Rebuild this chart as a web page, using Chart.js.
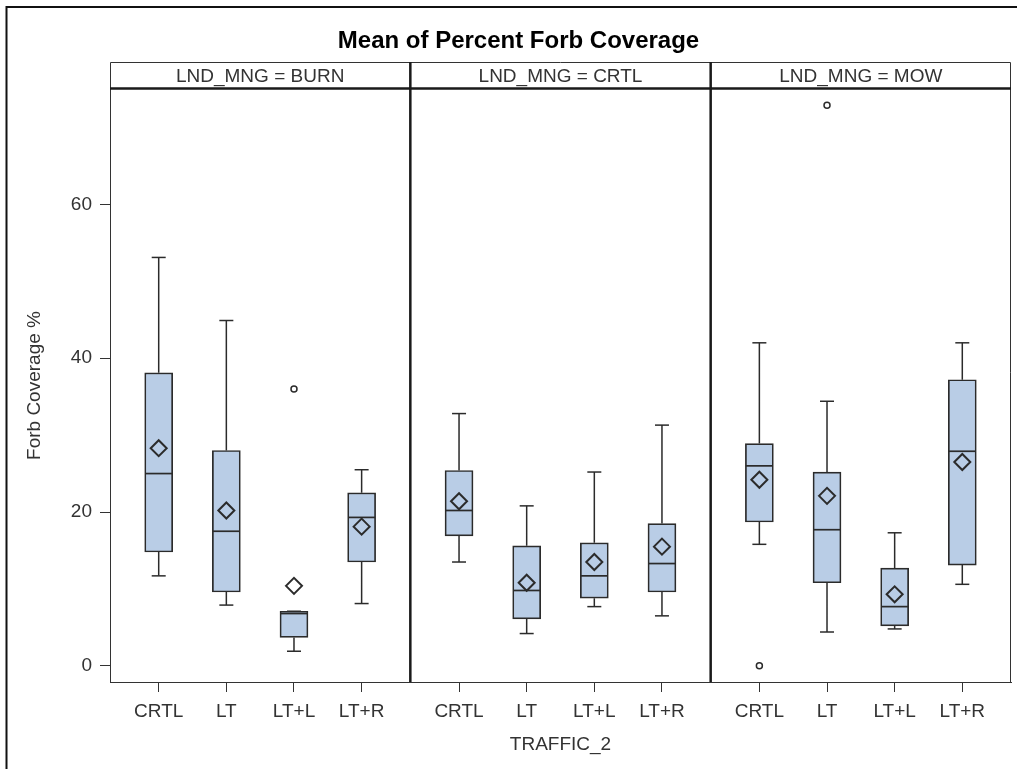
<!DOCTYPE html>
<html>
<head>
<meta charset="utf-8">
<title>Mean of Percent Forb Coverage</title>
<script src="https://cdn.jsdelivr.net/npm/chart.js@4.4.1/dist/chart.umd.min.js"></script>
<style>
  html, body { margin: 0; padding: 0; background: #fff; overflow: hidden; }
  canvas { display: block; }
</style>
</head>
<body>
<canvas id="chart" width="1017" height="769"></canvas>
<script>
// Land management panels and traffic treatments
const panels = ['BURN', 'CRTL', 'MOW'];
const traffic = ['CRTL', 'LT', 'LT+L', 'LT+R'];
const yTicks = [0, 20, 40, 60];

// Box plot statistics, one row per panel, one column per traffic treatment
const whiskerLow  = [[11.7, 7.9, 1.9, 8.1], [13.5, 4.2, 7.7, 6.5], [15.8, 4.4, 4.8, 10.6]];
const quartile1   = [[14.8, 9.6, 3.7, 13.5], [16.9, 6.1, 8.8, 9.6], [18.7, 10.8, 5.2, 13.1]];
const medians     = [[25.0, 17.5, 6.8, 19.3], [20.2, 9.8, 11.7, 13.3], [26.0, 17.7, 7.7, 27.9]];
const quartile3   = [[38.1, 28.0, 7.1, 22.5], [25.4, 15.6, 16.0, 18.5], [28.9, 25.2, 12.7, 37.2]];
const whiskerHigh = [[53.1, 44.9, 7.1, 25.5], [32.8, 20.8, 25.2, 31.3], [42.0, 34.4, 17.3, 42.0]];
const means       = [[28.3, 20.2, 10.4, 18.1], [21.4, 10.8, 13.5, 15.5], [24.2, 22.1, 9.3, 26.5]];
const outliers    = [[[], [], [36.0], []], [[], [], [], []], [[0.0], [72.9], [], []]];

// Horizontal layout of each panel in x-axis units (one unit per treatment slot)
const PANEL_EDGE = 0.72;
const PANEL_SPAN = 3 + 2 * PANEL_EDGE;
const STRIP_HEIGHT = 27;
const FONT = '"Liberation Sans", Arial, sans-serif';
const INK = '#2b2b2b';

const xPos = (p, i) => p * PANEL_SPAN + PANEL_EDGE + i;
const slotPositions = [];
panels.forEach((_, p) => traffic.forEach((_, i) => slotPositions.push(xPos(p, i))));

// Build the per-mark data from the statistics arrays
const boxData = [], medianData = [], meanData = [], capData = [], stemData = [], outlierData = [];
panels.forEach((_, p) => {
  traffic.forEach((_, i) => {
    const x = xPos(p, i);
    boxData.push({ x, y: [quartile1[p][i], quartile3[p][i]] });
    medianData.push({ x, y: medians[p][i] });
    meanData.push({ x, y: means[p][i] });
    capData.push({ x, y: whiskerLow[p][i] }, { x, y: whiskerHigh[p][i] });
    stemData.push({ x, y: quartile3[p][i] }, { x, y: whiskerHigh[p][i] }, { x, y: null });
    stemData.push({ x, y: quartile1[p][i] }, { x, y: whiskerLow[p][i] }, { x, y: null });
    outliers[p][i].forEach(v => outlierData.push({ x, y: v }));
  });
});

// Outer frame, panel strips, panel dividers
const panelFrame = {
  id: 'panelFrame',
  beforeDraw(chart) {
    const { ctx, width, height } = chart;
    ctx.save();
    ctx.fillStyle = '#fff';
    ctx.fillRect(0, 0, width, height);
    ctx.strokeStyle = '#111';
    ctx.lineWidth = 2;
    ctx.beginPath();
    ctx.moveTo(width, 7);
    ctx.lineTo(6.5, 7);
    ctx.lineTo(6.5, height);
    ctx.stroke();
    ctx.restore();
  },
  afterDraw(chart) {
    const { ctx, chartArea: { left, right, top, bottom }, scales: { x } } = chart;
    const stripTop = top - STRIP_HEIGHT;
    ctx.save();
    // strip outline and right border of the plot
    ctx.strokeStyle = '#333';
    ctx.lineWidth = 1;
    ctx.beginPath();
    ctx.moveTo(left + 0.5, top);
    ctx.lineTo(left + 0.5, stripTop + 0.5);
    ctx.lineTo(right - 0.5, stripTop + 0.5);
    ctx.lineTo(right - 0.5, bottom);
    ctx.stroke();
    // heavy strip base and panel dividers
    ctx.strokeStyle = '#1a1a1a';
    ctx.lineWidth = 2.5;
    ctx.beginPath();
    ctx.moveTo(left, top - 0.5);
    ctx.lineTo(right, top - 0.5);
    for (let p = 1; p < panels.length; p++) {
      const px = x.getPixelForValue(p * PANEL_SPAN);
      ctx.moveTo(px, stripTop);
      ctx.lineTo(px, bottom);
    }
    ctx.stroke();
    // strip labels
    ctx.fillStyle = '#333';
    ctx.font = '19px ' + FONT;
    ctx.textAlign = 'center';
    ctx.textBaseline = 'middle';
    panels.forEach((name, p) => {
      const cx = (x.getPixelForValue(p * PANEL_SPAN) + x.getPixelForValue((p + 1) * PANEL_SPAN)) / 2;
      ctx.fillText('LND_MNG = ' + name, cx, stripTop + STRIP_HEIGHT / 2 + 1);
    });
    ctx.restore();
  }
};

new Chart(document.getElementById('chart'), {
  type: 'bar',
  data: {
    datasets: [
      {
        type: 'line', data: stemData, order: 6,
        borderColor: INK, borderWidth: 1.5, pointRadius: 0, spanGaps: false, fill: false
      },
      {
        type: 'bar', data: boxData, order: 5,
        backgroundColor: '#b9cde6', borderColor: INK, borderWidth: 1.7,
        borderSkipped: false, barThickness: 28
      },
      {
        type: 'scatter', data: capData, order: 4,
        pointStyle: 'line', pointRadius: 7, pointBorderWidth: 1.5, pointBorderColor: INK
      },
      {
        type: 'scatter', data: medianData, order: 3,
        pointStyle: 'line', pointRadius: 13.5, pointBorderWidth: 1.7, pointBorderColor: INK
      },
      {
        type: 'scatter', data: meanData, order: 2,
        pointStyle: 'rectRot', pointRadius: 8, pointBorderWidth: 2,
        pointBorderColor: INK, pointBackgroundColor: 'rgba(0,0,0,0)'
      },
      {
        type: 'scatter', data: outlierData, order: 1,
        pointStyle: 'circle', pointRadius: 3, pointBorderWidth: 1.5,
        pointBorderColor: INK, pointBackgroundColor: 'rgba(0,0,0,0)'
      }
    ]
  },
  options: {
    responsive: false,
    devicePixelRatio: 1,
    animation: false,
    events: [],
    layout: { autoPadding: false, padding: { left: 26, right: 6, top: 0, bottom: 0 } },
    plugins: {
      legend: { display: false },
      tooltip: { enabled: false },
      title: {
        display: true,
        text: 'Mean of Percent Forb Coverage',
        color: '#000',
        font: { family: FONT, size: 24, weight: 'bold' },
        padding: { top: 26.6, bottom: 33.6 }
      }
    },
    scales: {
      x: {
        type: 'linear',
        min: 0,
        max: panels.length * PANEL_SPAN,
        offset: false,
        afterBuildTicks: scale => { scale.ticks = slotPositions.map(value => ({ value })); },
        afterFit: scale => { scale.height = 87; scale.paddingLeft = 0; scale.paddingRight = 0; },
        grid: { display: true, offset: false, drawOnChartArea: false, tickLength: 10, color: '#333', lineWidth: 1 },
        border: { display: true, color: '#333', width: 1 },
        ticks: {
          autoSkip: false, maxRotation: 0, padding: 8, color: '#333',
          font: { family: FONT, size: 19 },
          callback: (value, index) => traffic[index % traffic.length]
        },
        title: {
          display: true, text: 'TRAFFIC_2', color: '#333',
          font: { family: FONT, size: 19 },
          padding: { top: 0, bottom: 12.6 }
        }
      },
      y: {
        type: 'linear',
        min: -2.1,
        max: 75,
        afterBuildTicks: scale => { scale.ticks = yTicks.map(value => ({ value })); },
        afterFit: scale => { scale.width = 84; },
        grid: { display: true, drawOnChartArea: false, tickLength: 10, color: '#333', lineWidth: 1 },
        border: { display: true, color: '#333', width: 1 },
        ticks: { padding: 8, color: '#333', font: { family: FONT, size: 19 } },
        title: {
          display: true, text: 'Forb Coverage %', color: '#333',
          font: { family: FONT, size: 19 },
          padding: { top: -2.4, bottom: 0 }
        }
      }
    }
  },
  plugins: [panelFrame]
});
</script>
</body>
</html>
